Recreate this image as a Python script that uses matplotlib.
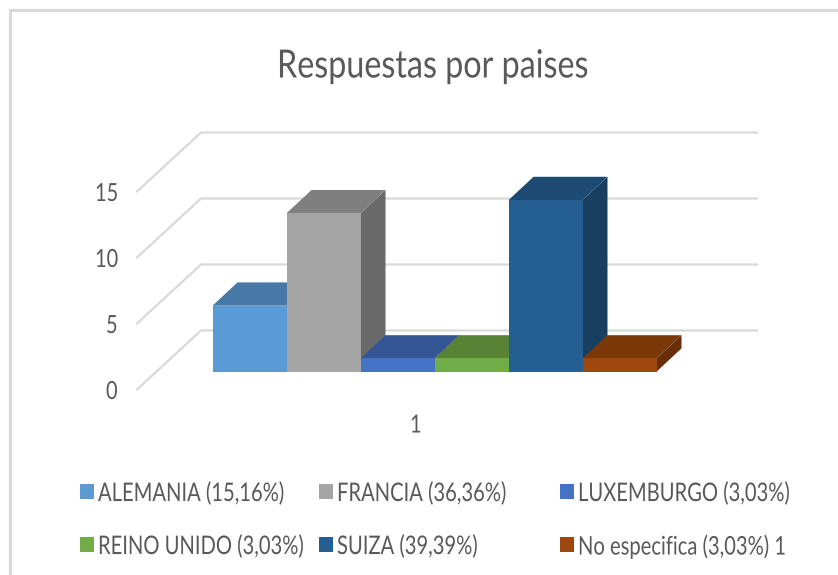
import matplotlib
matplotlib.use("Agg")
import matplotlib.pyplot as plt
from matplotlib.patches import Polygon, Rectangle
from matplotlib.patheffects import AbstractPathEffect
from matplotlib.text import Text
from matplotlib.transforms import Affine2D, Bbox

title = "Respuestas por paises"
paises = ["ALEMANIA (15,16%)", "FRANCIA (36,36%)", "LUXEMBURGO (3,03%)",
          "REINO UNIDO (3,03%)", "SUIZA (39,39%)", "No especifica (3,03%) 1"]
valores = [5, 12, 1, 1, 13, 1]
ticks = [0, 5, 10, 15]
categoria = "1"
front = ["#5B9BD5", "#A5A5A5", "#4472C4", "#70AD47", "#255E91", "#9E480E"]
top = ["#4878A6", "#7F7F7F", "#335593", "#588335", "#1D4A72", "#7B3809"]
side = ["#3F6A92", "#6A6A6A", "#2C4A80", "#4C722E", "#183E60", "#672E07"]

W, H = 838, 575
fam = "Lato"
TXT = "#595959"
GRID = "#D9D9D9"


class Narrow(AbstractPathEffect):
    """Squeeze a text horizontally about its starting point."""
    def __init__(self, sx):
        super().__init__()
        self.sx = sx

    def draw_path(self, renderer, gc, tpath, affine, rgbFace=None):
        x0 = affine.get_matrix()[0, 2]
        a = affine + Affine2D().translate(-x0, 0).scale(self.sx, 1).translate(x0, 0)
        renderer.draw_path(gc, tpath, a, rgbFace)


class NarrowText(Text):
    """Text whose reported extent matches the squeezed drawing."""
    sx = 1.0

    def get_window_extent(self, renderer=None, dpi=None):
        b = super().get_window_extent(renderer, dpi)
        return Bbox.from_extents(b.x0, b.y0, b.x0 + b.width * self.sx, b.y1)


fig = plt.figure(figsize=(W / 100, H / 100), dpi=100)
ax = fig.add_axes([0, 0, 1, 1])
ax.axis("off")

UX, UY = 74.0, 13.2
X0, Y0 = 249.5, 371.7
ax.set_xlim(-X0 / UX, (W - X0) / UX)
ax.set_ylim((Y0 - H) / UY, Y0 / UY)


def px(x):
    return (x - X0) / UX


def py(y):
    return (Y0 - y) / UY


def label(x, y, s, size, sx):
    t = NarrowText(px(x), py(y), s, ha="left", va="center_baseline", fontsize=size, color=TXT,
                   family=fam, path_effects=[Narrow(sx)], zorder=20)
    t.sx = sx
    ax.add_artist(t)


DX, DY = 25 / UX, 23.3 / UY

ax.plot([px(10.5), px(10.5), px(W)], [py(H), py(10.5), py(10.5)], color=GRID, lw=2.2, zorder=1,
        solid_joinstyle="miter")

tick_x = {0: 106, 5: 106, 10: 95, 15: 95}
for t in ticks:
    back = py(330.5) + t
    fr = py(389.5) + t
    ax.plot([px(137), px(201), px(757)], [fr, back, back], color=GRID, lw=1.6, zorder=2,
            solid_joinstyle="miter")
    label(tick_x[t], 389.5 - t * 13.2, str(t), 18, 0.8)

for i, v in enumerate(valores):
    l, r = i - 0.5, i + 0.5
    z = 3 + i
    ax.add_patch(Polygon([(r, 0), (r + DX, DY), (r + DX, v + DY), (r, v)], closed=True,
                         fc=side[i], ec="none", zorder=z))
    ax.add_patch(Polygon([(l, v), (l + DX, v + DY), (r + DX, v + DY), (r, v)], closed=True,
                         fc=top[i], ec="none", zorder=z))
    ax.bar(i, v, width=1.0, color=front[i], linewidth=0, zorder=z + 0.5)

label(410, 423, categoria, 18, 0.8)
label(277, 63, title, 28, 0.83)

slots = [(80, 491), (319, 491), (560, 491), (80, 544), (319, 544), (560, 544)]
for (x, y), name, c in zip(slots, paises, front):
    ax.add_patch(Rectangle((px(x), py(y + 7.5)), 14 / UX, 15 / UY, fc=c, ec="none", zorder=10))
    label(x + 18, y, name, 18.5, 0.785)

fig.savefig("out.png", dpi=100, facecolor="white")
